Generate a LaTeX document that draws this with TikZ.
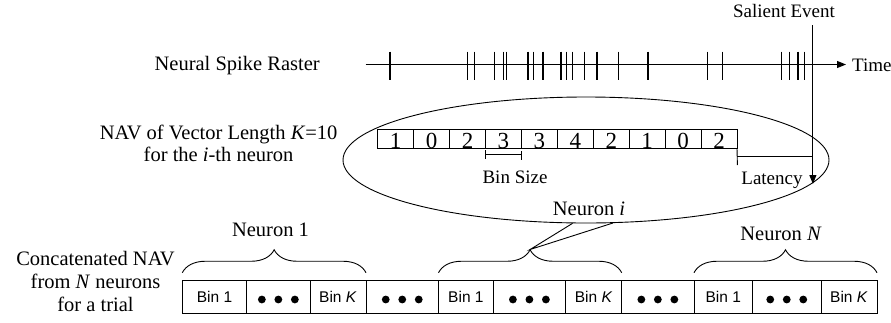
\documentclass[tikz,border=0pt]{standalone}
\usepackage{fontspec}
\setmainfont{Liberation Serif}
\newfontfamily\sansf{Liberation Sans}
\usetikzlibrary{shapes.geometric,arrows.meta,decorations.pathreplacing}
\tikzset{
  lbl/.style={font=\fontsize{20.5}{24}\selectfont, inner sep=0pt, anchor=base},
  smalllbl/.style={font=\fontsize{19}{22}\selectfont, inner sep=0pt, anchor=base},
  digit/.style={font=\fontsize{23}{26}\selectfont, inner sep=0pt, anchor=base},
  navcell/.style={draw, line width=0.8pt, minimum width=35.93pt, minimum height=19.3pt, inner sep=0pt, outer sep=0pt},
  barcell/.style={draw, line width=0.9pt, minimum height=32.5pt, inner sep=0pt, outer sep=0pt,
    font=\sansf\fontsize{15.5}{18}\selectfont},
  thin/.style={line width=0.9pt},
  spike/.style={line width=1.1pt},
  arr/.style={line width=0.9pt, -{Triangle[length=9pt,width=7pt]}},
  bracestyle/.style={line width=0.9pt, decorate, decoration={brace, amplitude=23pt}},
}
\begin{document}
\begin{tikzpicture}[x=1pt, y=-1pt]
\useasboundingbox (0,0) rectangle (891,322);

% ---------- raster ----------
\node[lbl] (raster) at (237.2,70) {Neural Spike Raster};
\coordinate (ax0) at (365.5,64.5);
\coordinate (ax1) at (846,64.5);
\draw[arr] (ax0) -- (ax1);
\node[smalllbl, anchor=base west] (time) at (852,71) {Time};
\foreach \x in {390,467.9,474.2,494.9,503.8,506.4,528,533.4,543,561,566.6,572.4,584.9,597,618.2,648,707.5,722.5,781.8,789.2,798,804.2}
  \draw[spike] (\x,51.5) -- (\x,79.5);

% ---------- salient event ----------
\node[smalllbl] (salient) at (784,17) {Salient Event};
\coordinate (sev0) at (812.9,25);
\coordinate (sev1) at (812.9,184);

% ---------- ellipse and NAV ----------
\node[draw, ellipse, line width=0.9pt, minimum width=486pt, minimum height=126pt, inner sep=0pt] (ell) at (586,160) {};
\node[lbl] (nav1) at (218.6,139) {NAV of Vector Length \textit{K}=10};
\node[lbl] (nav2) at (218.6,161) {for the \textit{i}-th neuron};
\foreach \v [count=\i] in {1,0,2,3,3,4,2,1,0,2} {
  \node[navcell] (c\i) at ({377.7+35.93*(\i-0.5)},138.7) {};
  \node[digit] (d\i) at ({377.7+35.93*(\i-0.5)},148.3) {\v};
}
% bin size bracket
\draw[thin] (c4.south west) ++(0,1.5) -- ++(0,9) ++(0,-4) -- ([yshift=-6.5pt]c4.south east) ++(0,-4) -- ++(0,9);
\node[smalllbl] (binsize) at (515,183) {Bin Size};
% latency
\coordinate (tickend) at (737.4,165);
\draw[thin] (c10.south east) -- (tickend);
\coordinate (lat0) at (737.4,156.7);
\coordinate (lat1) at (812.9,156.7);
\draw[thin] (lat0) -- (lat1);
\node[smalllbl] (latency) at (772,184) {Latency};
\draw[arr] (sev0) -- (sev1);

% ---------- concatenated bar ----------
\foreach \l/\r/\t [count=\i] in {182.3/246.7/{Bin 1},246.7/310/{},310/366/{Bin \textit{K}},366/438.5/{},438.5/493.3/{Bin 1},493.3/565.5/{},565.5/621.7/{Bin \textit{K}},621.7/694/{},694/752.5/{Bin 1},752.5/821/{},821/877/{Bin \textit{K}}}
  \node[barcell, minimum width={(\r-\l)*1pt}] (b\i) at ({(\l+\r)/2},297) {\t};
\foreach \i in {2,4,6,8,10}
  \foreach \dx in {-16.5,0,16.5}
    \fill ([xshift=\dx pt, yshift=-2.5pt]b\i.center) circle (3.9pt);

\node[lbl] (cat1) at (95.5,265) {Concatenated NAV};
\node[lbl] (cat2) at (95.5,288) {from \textit{N} neurons};
\node[lbl] (cat3) at (95.5,311) {for a trial};

% ---------- braces ----------
\draw[bracestyle] ([yshift=8pt]b1.north west) -- ([yshift=8pt]b3.north east);
\draw[bracestyle] ([yshift=8pt]b5.north west) -- ([yshift=8pt]b7.north east);
\draw[bracestyle] ([yshift=8pt]b9.north west) -- ([yshift=8pt]b11.north east);
\node[lbl] (n1) at (270.5,236) {Neuron 1};
\node[lbl] (ni) at (589,215) {Neuron \textit{i}};
\node[lbl] (nN) at (781,240) {Neuron \textit{N}};
\coordinate (tipi) at (530.1,249.5);
\draw[thin] (ell.258) -- (tipi) -- (ell.293);
\end{tikzpicture}
\end{document}
